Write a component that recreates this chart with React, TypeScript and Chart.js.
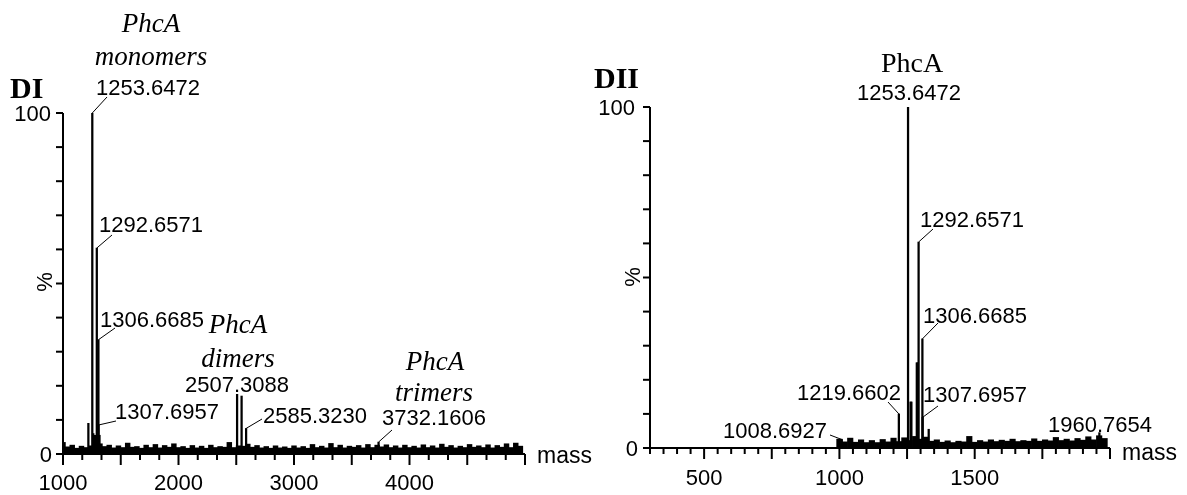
import React, { useEffect, useRef } from "react";
import { Chart, registerables } from "chart.js";

Chart.register(...registerables);

// ---------- DATA ----------
// Panel DI
const diNoiseMass = [
  1000, 1040, 1080, 1120, 1160, 1200, 1240, 1280, 1320, 1360,
  1400, 1440, 1480, 1520, 1560, 1600, 1640, 1680, 1720, 1760,
  1800, 1840, 1880, 1920, 1960, 2000, 2040, 2080, 2120, 2160,
  2200, 2240, 2280, 2320, 2360, 2400, 2440, 2480, 2520, 2560,
  2600, 2640, 2680, 2720, 2760, 2800, 2840, 2880, 2920, 2960,
  3000, 3040, 3080, 3120, 3160, 3200, 3240, 3280, 3320, 3360,
  3400, 3440, 3480, 3520, 3560, 3600, 3640, 3680, 3720, 3760,
  3800, 3840, 3880, 3920, 3960, 4000, 4040, 4080, 4120, 4160,
  4200, 4240, 4280, 4320, 4360, 4400, 4440, 4480, 4520, 4560,
  4600, 4640, 4680, 4720, 4760, 4800, 4840, 4880, 4920, 4960,
];
const diNoiseIntensity = [
  3.4, 2.1, 2.6, 1.7, 2.3, 1.9, 2.4, 2.8, 3.0, 2.2,
  2.6, 1.8, 2.4, 1.9, 3.2, 2.0, 2.2, 1.7, 2.6, 1.9,
  2.8, 1.8, 2.5, 2.0, 3.0, 1.9, 2.2, 1.7, 2.5, 1.8,
  2.3, 1.7, 2.6, 1.9, 2.2, 2.0, 3.4, 1.9, 2.4, 2.3,
  2.9, 2.0, 2.5, 1.8, 2.2, 1.7, 2.4, 1.8, 2.1, 1.7,
  2.4, 1.8, 2.2, 1.7, 2.8, 1.9, 2.3, 1.8, 3.1, 1.9,
  2.6, 1.8, 2.3, 2.0, 2.5, 1.8, 2.8, 1.9, 2.6, 2.1,
  2.7, 1.9, 2.4, 1.8, 2.6, 1.9, 2.3, 1.8, 2.7, 1.9,
  2.4, 1.8, 2.9, 2.0, 2.5, 1.8, 2.3, 1.9, 2.8, 2.0,
  2.4, 1.9, 2.7, 1.8, 2.5, 2.0, 3.0, 1.9, 3.2, 2.3,
];
const diPeakMass = [1219.66, 1253.6472, 1262, 1276, 1292.6571, 1300, 1306.6685, 1307.6957, 1316, 2507.3088, 2546.3, 2585.323, 3732.1606];
const diPeakIntensity = [9, 100, 6, 5.5, 60.4, 5.5, 33.5, 8.5, 5.5, 17.5, 17, 7.5, 3.5];
const diTickLabels = ["1000", "2000", "3000", "4000"];

// Panel DII
const diiNoiseMass = [
  1000, 1020, 1040, 1060, 1080, 1100, 1120, 1140, 1160, 1180,
  1200, 1220, 1240, 1260, 1280, 1300, 1320, 1340, 1360, 1380,
  1400, 1420, 1440, 1460, 1480, 1500, 1520, 1540, 1560, 1580,
  1600, 1620, 1640, 1660, 1680, 1700, 1720, 1740, 1760, 1780,
  1800, 1820, 1840, 1860, 1880, 1900, 1920, 1940, 1960, 1980,
];
const diiNoiseIntensity = [
  2.6, 1.8, 2.9, 1.7, 2.4, 1.6, 2.2, 1.6, 2.5, 1.8,
  2.9, 1.9, 3.0, 2.2, 3.4, 2.6, 3.2, 2.0, 2.4, 1.7,
  2.1, 1.6, 2.0, 1.8, 3.4, 1.7, 2.2, 1.8, 2.4, 1.9,
  2.3, 2.0, 2.6, 1.9, 2.2, 2.0, 2.7, 2.0, 2.4, 2.1,
  3.1, 2.2, 2.6, 2.1, 2.8, 2.3, 3.3, 2.4, 3.6, 2.8,
];
const diiPeakMass = [1008.6927, 1219.6602, 1253.6472, 1263, 1266, 1286, 1289, 1292.6571, 1306.6685, 1307.6957, 1330, 1960.7654];
const diiPeakIntensity = [2.5, 10, 100, 13.5, 13.5, 25, 25, 60.4, 32, 9, 5.5, 4.5];
const diiTickLabels = ["500", "1000", "1500"];

// ---------- LAYOUT / STYLE ----------
const SANS = '"Liberation Sans", Arial, sans-serif';
const SERIF = '"Liberation Serif", "Times New Roman", serif';

type Ann = {
  text: string;
  cx: number; // text x (canvas px)
  by: number; // baseline y (canvas px)
  font: string;
  align?: CanvasTextAlign;
  leader?: [number, number, number, number]; // fromX, fromY (px), mass, intensity
};

type PanelCfg = {
  width: number;
  padding: { left: number; right: number; top: number; bottom: number };
  xMin: number;
  xMax: number;
  noiseMass: number[];
  noiseIntensity: number[];
  noiseBarWidth: number;
  peakMass: number[];
  peakIntensity: number[];
  tickLabels: string[];
  longStep: number;
  shortStep: number;
  tickLabelBaseline: number;
  yLabelRight: number;
  zeroRight: number;
  pctPos: [number, number];
  massPos: [number, number];
  anns: Ann[];
};

const NUM = `22px ${SANS}`;
const ITAL = `italic 27px ${SERIF}`;

const diCfg: PanelCfg = {
  width: 600,
  padding: { left: 63, right: 75, top: 113, bottom: 41 },
  xMin: 1000,
  xMax: 5000,
  noiseMass: diNoiseMass,
  noiseIntensity: diNoiseIntensity,
  noiseBarWidth: 4.8,
  peakMass: diPeakMass,
  peakIntensity: diPeakIntensity,
  tickLabels: diTickLabels,
  longStep: 500,
  shortStep: 500 / 3,
  tickLabelBaseline: 490,
  yLabelRight: 51,
  zeroRight: 52,
  pctPos: [46, 282],
  massPos: [537, 463],
  anns: [
    { text: "DI", cx: 10, by: 98, font: `bold 30px ${SERIF}`, align: "left" },
    { text: "PhcA", cx: 151, by: 32, font: ITAL },
    { text: "monomers", cx: 151, by: 65, font: ITAL },
    { text: "1253.6472", cx: 148, by: 95, font: NUM, leader: [107, 97, 1253.6472, 100] },
    { text: "1292.6571", cx: 151, by: 232, font: NUM, leader: [112, 235, 1292.6571, 60.4] },
    { text: "1306.6685", cx: 152, by: 327, font: NUM, leader: [115, 328, 1306.6685, 33.5] },
    { text: "1307.6957", cx: 167, by: 419, font: NUM, leader: [116, 421, 1307.6957, 8.5] },
    { text: "PhcA", cx: 238, by: 333, font: ITAL },
    { text: "dimers", cx: 238, by: 367, font: ITAL },
    { text: "2507.3088", cx: 237, by: 392, font: NUM },
    { text: "2585.3230", cx: 315, by: 423, font: NUM, leader: [262, 419, 2585.323, 7.5] },
    { text: "PhcA", cx: 435, by: 370, font: ITAL },
    { text: "trimers", cx: 434, by: 401, font: ITAL },
    { text: "3732.1606", cx: 434, by: 425, font: NUM, leader: [392, 430, 3732.1606, 3.5] },
  ],
};

const OX = 580;
const diiCfg: PanelCfg = {
  width: 1187 - OX,
  padding: { left: 650 - OX, right: 77, top: 107, bottom: 47 },
  xMin: 300,
  xMax: 2000,
  noiseMass: diiNoiseMass,
  noiseIntensity: diiNoiseIntensity,
  noiseBarWidth: 5.5,
  peakMass: diiPeakMass,
  peakIntensity: diiPeakIntensity,
  tickLabels: diiTickLabels,
  longStep: 250,
  shortStep: 50,
  tickLabelBaseline: 485,
  yLabelRight: 635 - OX,
  zeroRight: 638 - OX,
  pctPos: [634 - OX, 277],
  massPos: [1122 - OX, 460],
  anns: [
    { text: "DII", cx: 594 - OX, by: 88, font: `bold 30px ${SERIF}`, align: "left" },
    { text: "PhcA", cx: 912 - OX, by: 72, font: `28px ${SERIF}` },
    { text: "1253.6472", cx: 909 - OX, by: 100, font: NUM },
    { text: "1292.6571", cx: 972 - OX, by: 227, font: NUM, leader: [933 - OX, 229, 1292.6571, 60.4] },
    { text: "1306.6685", cx: 975 - OX, by: 323, font: NUM, leader: [938 - OX, 323, 1306.6685, 32] },
    { text: "1307.6957", cx: 975 - OX, by: 402, font: NUM, leader: [938 - OX, 406, 1307.6957, 9] },
    { text: "1219.6602", cx: 849 - OX, by: 400, font: NUM, leader: [888 - OX, 402, 1219.6602, 10] },
    { text: "1008.6927", cx: 775 - OX, by: 438, font: NUM, leader: [830 - OX, 435, 1008.6927, 2.5] },
    { text: "1960.7654", cx: 1100 - OX, by: 432, font: NUM },
  ],
};

function makeAxisPlugin(cfg: PanelCfg) {
  return {
    id: "msAxes",
    afterDatasetsDraw(chart: any) {
      const ctx: CanvasRenderingContext2D = chart.ctx;
      const xs = chart.scales.x;
      const ys = chart.scales.y;
      const x0 = xs.getPixelForValue(cfg.xMin);
      const x1 = xs.getPixelForValue(cfg.xMax);
      const y0 = ys.getPixelForValue(0);
      const y100 = ys.getPixelForValue(100);
      ctx.save();
      ctx.strokeStyle = "#000";
      ctx.fillStyle = "#000";
      ctx.lineWidth = 2;
      ctx.lineCap = "butt";
      // axes
      ctx.beginPath();
      ctx.moveTo(x0, y100);
      ctx.lineTo(x0, y0);
      ctx.lineTo(x1, y0);
      ctx.stroke();
      // y ticks
      for (let v = 0; v <= 100; v += 10) {
        const py = ys.getPixelForValue(v);
        ctx.beginPath();
        ctx.moveTo(x0 - 7, py);
        ctx.lineTo(x0, py);
        ctx.stroke();
      }
      // x ticks
      const nShort = Math.round((cfg.xMax - cfg.xMin) / cfg.shortStep);
      for (let i = 0; i <= nShort; i++) {
        const v = cfg.xMin + i * cfg.shortStep;
        const isLong = Math.abs(v / cfg.longStep - Math.round(v / cfg.longStep)) < 1e-6;
        const px = xs.getPixelForValue(v);
        ctx.beginPath();
        ctx.moveTo(px, y0);
        ctx.lineTo(px, y0 + (isLong ? 11 : 6));
        ctx.stroke();
      }
      // tick labels
      ctx.font = NUM;
      ctx.textAlign = "center";
      ctx.textBaseline = "alphabetic";
      cfg.tickLabels.forEach((t) => {
        ctx.fillText(t, xs.getPixelForValue(Number(t)), cfg.tickLabelBaseline);
      });
      ctx.textAlign = "right";
      ctx.fillText("100", cfg.yLabelRight, y100 + 8);
      ctx.fillText("0", cfg.zeroRight, y0 + 8);
      ctx.textAlign = "left";
      ctx.font = `23px ${SANS}`;
      ctx.fillText("mass", cfg.massPos[0], cfg.massPos[1]);
      // %
      ctx.save();
      ctx.translate(cfg.pctPos[0], cfg.pctPos[1]);
      ctx.rotate(-Math.PI / 2);
      ctx.font = NUM;
      ctx.textAlign = "center";
      ctx.textBaseline = "middle";
      ctx.fillText("%", 0, 0);
      ctx.restore();
      // annotations
      ctx.lineWidth = 1;
      cfg.anns.forEach((a) => {
        ctx.font = a.font;
        ctx.textAlign = a.align || "center";
        ctx.textBaseline = "alphabetic";
        ctx.fillText(a.text, a.cx, a.by);
        if (a.leader) {
          const [fx, fy, m, inten] = a.leader;
          ctx.beginPath();
          ctx.moveTo(fx, fy);
          ctx.lineTo(xs.getPixelForValue(m), ys.getPixelForValue(inten));
          ctx.stroke();
        }
      });
      ctx.restore();
    },
  };
}

function Panel({ cfg, left }: { cfg: PanelCfg; left: number }) {
  const ref = useRef<HTMLCanvasElement | null>(null);
  useEffect(() => {
    if (!ref.current) return;
    const chart = new Chart(ref.current, {
      type: "bar",
      data: {
        datasets: [
          {
            type: "bar",
            data: cfg.peakMass.map((m, i) => ({ x: m, y: cfg.peakIntensity[i] })),
            backgroundColor: "#000",
            borderWidth: 0,
            barThickness: 1.6,
            grouped: false,
          } as any,
          {
            type: "bar",
            data: cfg.noiseMass.map((m, i) => ({ x: m, y: cfg.noiseIntensity[i] })),
            backgroundColor: "#000",
            borderWidth: 0,
            barThickness: cfg.noiseBarWidth,
            grouped: false,
          } as any,
        ],
      },
      options: {
        responsive: false,
        animation: false,
        layout: { padding: cfg.padding },
        plugins: { legend: { display: false }, tooltip: { enabled: false } },
        scales: {
          x: { type: "linear", min: cfg.xMin, max: cfg.xMax, display: false, offset: false },
          y: { type: "linear", min: 0, max: 100, display: false },
        },
      } as any,
      plugins: [makeAxisPlugin(cfg)],
    });
    return () => chart.destroy();
  }, [cfg]);
  return (
    <canvas
      ref={ref}
      width={cfg.width}
      height={495}
      style={{ position: "absolute", left, top: 0, width: cfg.width, height: 495, display: "block" }}
    />
  );
}

export default function App() {
  return (
    <div style={{ position: "fixed", left: 0, top: 0, width: 1187, height: 495, background: "#fff", overflow: "hidden" }}>
      <Panel cfg={diCfg} left={0} />
      <Panel cfg={diiCfg} left={OX} />
    </div>
  );
}
